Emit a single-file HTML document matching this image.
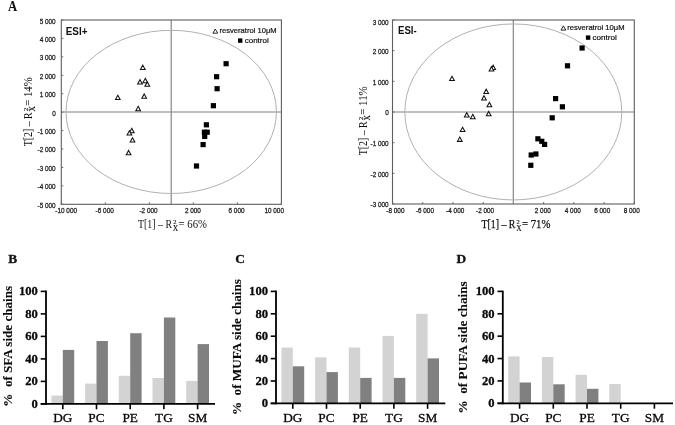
<!DOCTYPE html><html><head><meta charset="utf-8"><style>html,body{margin:0;padding:0;background:#fff;width:675px;height:425px;overflow:hidden}svg{display:block;will-change:transform}</style></head><body>
<svg width="675" height="425" viewBox="0 0 675 425">
<line x1="171.2" y1="20.0" x2="171.2" y2="204.3" stroke="#808080" stroke-width="1.15"/>
<line x1="61.3" y1="112.0" x2="281.4" y2="112.0" stroke="#808080" stroke-width="1.15"/>
<ellipse cx="171.2" cy="111.9" rx="105.2" ry="81.6" fill="none" stroke="#b0b0b0" stroke-width="1"/>
<rect x="61.3" y="20.0" width="220.10" height="184.30" fill="none" stroke="#5e5e5e" stroke-width="1.1"/>
<line x1="61.3" y1="20.00" x2="63.3" y2="20.00" stroke="#5e5e5e" stroke-width="0.9"/>
<text x="55.70" y="24.40" font-family='"Liberation Sans", sans-serif' font-size="7.3" font-weight="normal" text-anchor="end" fill="#1e1e1e" stroke="#1e1e1e" stroke-width="0.28" textLength="16.03" lengthAdjust="spacingAndGlyphs">5 000</text>
<line x1="61.3" y1="38.43" x2="63.3" y2="38.43" stroke="#5e5e5e" stroke-width="0.9"/>
<text x="55.70" y="41.83" font-family='"Liberation Sans", sans-serif' font-size="7.3" font-weight="normal" text-anchor="end" fill="#1e1e1e" stroke="#1e1e1e" stroke-width="0.28" textLength="16.03" lengthAdjust="spacingAndGlyphs">4 000</text>
<line x1="61.3" y1="56.86" x2="63.3" y2="56.86" stroke="#5e5e5e" stroke-width="0.9"/>
<text x="55.70" y="60.26" font-family='"Liberation Sans", sans-serif' font-size="7.3" font-weight="normal" text-anchor="end" fill="#1e1e1e" stroke="#1e1e1e" stroke-width="0.28" textLength="16.03" lengthAdjust="spacingAndGlyphs">3 000</text>
<line x1="61.3" y1="75.29" x2="63.3" y2="75.29" stroke="#5e5e5e" stroke-width="0.9"/>
<text x="55.70" y="78.69" font-family='"Liberation Sans", sans-serif' font-size="7.3" font-weight="normal" text-anchor="end" fill="#1e1e1e" stroke="#1e1e1e" stroke-width="0.28" textLength="16.03" lengthAdjust="spacingAndGlyphs">2 000</text>
<line x1="61.3" y1="93.72" x2="63.3" y2="93.72" stroke="#5e5e5e" stroke-width="0.9"/>
<text x="55.70" y="97.12" font-family='"Liberation Sans", sans-serif' font-size="7.3" font-weight="normal" text-anchor="end" fill="#1e1e1e" stroke="#1e1e1e" stroke-width="0.28" textLength="16.03" lengthAdjust="spacingAndGlyphs">1 000</text>
<line x1="61.3" y1="112.15" x2="63.3" y2="112.15" stroke="#5e5e5e" stroke-width="0.9"/>
<text x="55.70" y="115.55" font-family='"Liberation Sans", sans-serif' font-size="7.3" font-weight="normal" text-anchor="end" fill="#1e1e1e" stroke="#1e1e1e" stroke-width="0.28" textLength="3.56" lengthAdjust="spacingAndGlyphs">0</text>
<line x1="61.3" y1="130.58" x2="63.3" y2="130.58" stroke="#5e5e5e" stroke-width="0.9"/>
<text x="55.70" y="133.98" font-family='"Liberation Sans", sans-serif' font-size="7.3" font-weight="normal" text-anchor="end" fill="#1e1e1e" stroke="#1e1e1e" stroke-width="0.28" textLength="18.16" lengthAdjust="spacingAndGlyphs">-1 000</text>
<line x1="61.3" y1="149.01" x2="63.3" y2="149.01" stroke="#5e5e5e" stroke-width="0.9"/>
<text x="55.70" y="152.41" font-family='"Liberation Sans", sans-serif' font-size="7.3" font-weight="normal" text-anchor="end" fill="#1e1e1e" stroke="#1e1e1e" stroke-width="0.28" textLength="18.16" lengthAdjust="spacingAndGlyphs">-2 000</text>
<line x1="61.3" y1="167.44" x2="63.3" y2="167.44" stroke="#5e5e5e" stroke-width="0.9"/>
<text x="55.70" y="170.84" font-family='"Liberation Sans", sans-serif' font-size="7.3" font-weight="normal" text-anchor="end" fill="#1e1e1e" stroke="#1e1e1e" stroke-width="0.28" textLength="18.16" lengthAdjust="spacingAndGlyphs">-3 000</text>
<line x1="61.3" y1="185.87" x2="63.3" y2="185.87" stroke="#5e5e5e" stroke-width="0.9"/>
<text x="55.70" y="189.27" font-family='"Liberation Sans", sans-serif' font-size="7.3" font-weight="normal" text-anchor="end" fill="#1e1e1e" stroke="#1e1e1e" stroke-width="0.28" textLength="18.16" lengthAdjust="spacingAndGlyphs">-4 000</text>
<line x1="61.3" y1="204.30" x2="63.3" y2="204.30" stroke="#5e5e5e" stroke-width="0.9"/>
<text x="55.70" y="207.70" font-family='"Liberation Sans", sans-serif' font-size="7.3" font-weight="normal" text-anchor="end" fill="#1e1e1e" stroke="#1e1e1e" stroke-width="0.28" textLength="18.16" lengthAdjust="spacingAndGlyphs">-5 000</text>
<line x1="61.30" y1="204.3" x2="61.30" y2="202.3" stroke="#5e5e5e" stroke-width="0.9"/>
<text x="66.20" y="213.20" font-family='"Liberation Sans", sans-serif' font-size="7.3" font-weight="normal" text-anchor="middle" fill="#1e1e1e" stroke="#1e1e1e" stroke-width="0.28" textLength="21.72" lengthAdjust="spacingAndGlyphs">-10 000</text>
<line x1="105.32" y1="204.3" x2="105.32" y2="202.3" stroke="#5e5e5e" stroke-width="0.9"/>
<text x="104.70" y="213.20" font-family='"Liberation Sans", sans-serif' font-size="7.3" font-weight="normal" text-anchor="middle" fill="#1e1e1e" stroke="#1e1e1e" stroke-width="0.28" textLength="18.16" lengthAdjust="spacingAndGlyphs">-6 000</text>
<line x1="149.34" y1="204.3" x2="149.34" y2="202.3" stroke="#5e5e5e" stroke-width="0.9"/>
<text x="148.50" y="213.20" font-family='"Liberation Sans", sans-serif' font-size="7.3" font-weight="normal" text-anchor="middle" fill="#1e1e1e" stroke="#1e1e1e" stroke-width="0.28" textLength="18.16" lengthAdjust="spacingAndGlyphs">-2 000</text>
<line x1="193.36" y1="204.3" x2="193.36" y2="202.3" stroke="#5e5e5e" stroke-width="0.9"/>
<text x="192.90" y="213.20" font-family='"Liberation Sans", sans-serif' font-size="7.3" font-weight="normal" text-anchor="middle" fill="#1e1e1e" stroke="#1e1e1e" stroke-width="0.28" textLength="16.03" lengthAdjust="spacingAndGlyphs">2 000</text>
<line x1="237.38" y1="204.3" x2="237.38" y2="202.3" stroke="#5e5e5e" stroke-width="0.9"/>
<text x="236.50" y="213.20" font-family='"Liberation Sans", sans-serif' font-size="7.3" font-weight="normal" text-anchor="middle" fill="#1e1e1e" stroke="#1e1e1e" stroke-width="0.28" textLength="16.03" lengthAdjust="spacingAndGlyphs">6 000</text>
<line x1="281.40" y1="204.3" x2="281.40" y2="202.3" stroke="#5e5e5e" stroke-width="0.9"/>
<text x="274.20" y="213.20" font-family='"Liberation Sans", sans-serif' font-size="7.3" font-weight="normal" text-anchor="middle" fill="#1e1e1e" stroke="#1e1e1e" stroke-width="0.28" textLength="19.59" lengthAdjust="spacingAndGlyphs">10 000</text>
<path d="M142.80 65.15L145.15 69.45L140.45 69.45Z" fill="#fff" stroke="#111" stroke-width="1.05" stroke-linejoin="miter"/>
<path d="M140.00 79.65L142.35 83.95L137.65 83.95Z" fill="#fff" stroke="#111" stroke-width="1.05" stroke-linejoin="miter"/>
<path d="M145.30 78.35L147.65 82.65L142.95 82.65Z" fill="#fff" stroke="#111" stroke-width="1.05" stroke-linejoin="miter"/>
<path d="M147.30 81.95L149.65 86.25L144.95 86.25Z" fill="#fff" stroke="#111" stroke-width="1.05" stroke-linejoin="miter"/>
<path d="M117.80 95.25L120.15 99.55L115.45 99.55Z" fill="#fff" stroke="#111" stroke-width="1.05" stroke-linejoin="miter"/>
<path d="M144.20 93.95L146.55 98.25L141.85 98.25Z" fill="#fff" stroke="#111" stroke-width="1.05" stroke-linejoin="miter"/>
<path d="M138.20 106.35L140.55 110.65L135.85 110.65Z" fill="#fff" stroke="#111" stroke-width="1.05" stroke-linejoin="miter"/>
<path d="M131.80 128.35L134.15 132.65L129.45 132.65Z" fill="#fff" stroke="#111" stroke-width="1.05" stroke-linejoin="miter"/>
<path d="M129.40 130.75L131.75 135.05L127.05 135.05Z" fill="#fff" stroke="#111" stroke-width="1.05" stroke-linejoin="miter"/>
<path d="M132.50 137.75L134.85 142.05L130.15 142.05Z" fill="#fff" stroke="#111" stroke-width="1.05" stroke-linejoin="miter"/>
<path d="M128.60 150.45L130.95 154.75L126.25 154.75Z" fill="#fff" stroke="#111" stroke-width="1.05" stroke-linejoin="miter"/>
<rect x="223.50" y="61.10" width="5.2" height="5.2" fill="#000"/>
<rect x="214.00" y="74.10" width="5.2" height="5.2" fill="#000"/>
<rect x="214.50" y="86.10" width="5.2" height="5.2" fill="#000"/>
<rect x="210.80" y="103.10" width="5.2" height="5.2" fill="#000"/>
<rect x="203.80" y="122.20" width="5.2" height="5.2" fill="#000"/>
<rect x="204.60" y="129.60" width="5.2" height="5.2" fill="#000"/>
<rect x="201.80" y="129.60" width="5.2" height="5.2" fill="#000"/>
<rect x="202.10" y="133.80" width="5.2" height="5.2" fill="#000"/>
<rect x="200.50" y="142.00" width="5.2" height="5.2" fill="#000"/>
<rect x="193.90" y="163.40" width="5.2" height="5.2" fill="#000"/>
<text x="65.80" y="34.90" font-family='"Liberation Sans", sans-serif' font-size="10.8" font-weight="bold" text-anchor="start" fill="#111" textLength="21.6" lengthAdjust="spacingAndGlyphs">ESI+</text>
<path d="M215.30 29.00L217.70 33.20L212.90 33.20Z" fill="#fff" stroke="#111" stroke-width="0.9" stroke-linejoin="miter"/>
<text x="219.50" y="33.30" font-family='"Liberation Sans", sans-serif' font-size="7.6" font-weight="normal" text-anchor="start" fill="#111" stroke="#111" stroke-width="0.2" textLength="57.2" lengthAdjust="spacingAndGlyphs">resveratrol 10μM</text>
<rect x="238.00" y="38.40" width="4.4" height="4.4" fill="#000"/>
<text x="244.70" y="42.90" font-family='"Liberation Sans", sans-serif' font-size="7.6" font-weight="normal" text-anchor="start" fill="#111" stroke="#111" stroke-width="0.2" textLength="24.0" lengthAdjust="spacingAndGlyphs">control</text>
<text x="138.00" y="227.80" font-family='"Liberation Serif", serif' font-size="11.6" fill="#111" stroke="#111" stroke-width="0.0" textLength="34.0" lengthAdjust="spacingAndGlyphs">T[1] – R</text><text x="173.20" y="223.60" font-family='"Liberation Serif", serif' font-size="6.5" fill="#111" stroke="#111" stroke-width="0.15">2</text><text x="172.80" y="230.60" font-family='"Liberation Serif", serif' font-size="7.4" fill="#111" stroke="#111" stroke-width="0.15">X</text><text x="178.50" y="227.80" font-family='"Liberation Serif", serif' font-size="11.6" fill="#111" stroke="#111" stroke-width="0.0" textLength="28.5" lengthAdjust="spacingAndGlyphs">= 66%</text>
<g transform="translate(32.1,146.3) rotate(-90)"><text x="0.00" y="0.00" font-family='"Liberation Serif", serif' font-size="11.6" fill="#111" stroke="#111" stroke-width="0.05" textLength="34.0" lengthAdjust="spacingAndGlyphs">T[2] – R</text><text x="35.20" y="-4.20" font-family='"Liberation Serif", serif' font-size="6.5" fill="#111" stroke="#111" stroke-width="0.15">2</text><text x="34.80" y="2.80" font-family='"Liberation Serif", serif' font-size="7.4" fill="#111" stroke="#111" stroke-width="0.15">X</text><text x="40.50" y="0.00" font-family='"Liberation Serif", serif' font-size="11.6" fill="#111" stroke="#111" stroke-width="0.05" textLength="28.5" lengthAdjust="spacingAndGlyphs">= 14%</text></g>
<line x1="513.3" y1="20.0" x2="513.3" y2="204.0" stroke="#808080" stroke-width="1.15"/>
<line x1="392.5" y1="112.0" x2="634.3" y2="112.0" stroke="#808080" stroke-width="1.15"/>
<ellipse cx="513.3" cy="111.95" rx="108.5" ry="88.0" fill="none" stroke="#b0b0b0" stroke-width="1"/>
<rect x="392.5" y="20.0" width="241.80" height="184.00" fill="none" stroke="#5e5e5e" stroke-width="1.1"/>
<line x1="392.5" y1="20.00" x2="394.5" y2="20.00" stroke="#5e5e5e" stroke-width="0.9"/>
<text x="388.70" y="25.40" font-family='"Liberation Sans", sans-serif' font-size="7.3" font-weight="normal" text-anchor="end" fill="#1e1e1e" stroke="#1e1e1e" stroke-width="0.28" textLength="16.03" lengthAdjust="spacingAndGlyphs">3 000</text>
<line x1="392.5" y1="50.67" x2="394.5" y2="50.67" stroke="#5e5e5e" stroke-width="0.9"/>
<text x="388.70" y="54.07" font-family='"Liberation Sans", sans-serif' font-size="7.3" font-weight="normal" text-anchor="end" fill="#1e1e1e" stroke="#1e1e1e" stroke-width="0.28" textLength="16.03" lengthAdjust="spacingAndGlyphs">2 000</text>
<line x1="392.5" y1="81.33" x2="394.5" y2="81.33" stroke="#5e5e5e" stroke-width="0.9"/>
<text x="388.70" y="84.73" font-family='"Liberation Sans", sans-serif' font-size="7.3" font-weight="normal" text-anchor="end" fill="#1e1e1e" stroke="#1e1e1e" stroke-width="0.28" textLength="16.03" lengthAdjust="spacingAndGlyphs">1 000</text>
<line x1="392.5" y1="112.00" x2="394.5" y2="112.00" stroke="#5e5e5e" stroke-width="0.9"/>
<text x="388.70" y="115.40" font-family='"Liberation Sans", sans-serif' font-size="7.3" font-weight="normal" text-anchor="end" fill="#1e1e1e" stroke="#1e1e1e" stroke-width="0.28" textLength="3.56" lengthAdjust="spacingAndGlyphs">0</text>
<line x1="392.5" y1="142.67" x2="394.5" y2="142.67" stroke="#5e5e5e" stroke-width="0.9"/>
<text x="388.70" y="146.07" font-family='"Liberation Sans", sans-serif' font-size="7.3" font-weight="normal" text-anchor="end" fill="#1e1e1e" stroke="#1e1e1e" stroke-width="0.28" textLength="18.16" lengthAdjust="spacingAndGlyphs">-1 000</text>
<line x1="392.5" y1="173.33" x2="394.5" y2="173.33" stroke="#5e5e5e" stroke-width="0.9"/>
<text x="388.70" y="176.73" font-family='"Liberation Sans", sans-serif' font-size="7.3" font-weight="normal" text-anchor="end" fill="#1e1e1e" stroke="#1e1e1e" stroke-width="0.28" textLength="18.16" lengthAdjust="spacingAndGlyphs">-2 000</text>
<line x1="392.5" y1="204.00" x2="394.5" y2="204.00" stroke="#5e5e5e" stroke-width="0.9"/>
<text x="388.70" y="207.40" font-family='"Liberation Sans", sans-serif' font-size="7.3" font-weight="normal" text-anchor="end" fill="#1e1e1e" stroke="#1e1e1e" stroke-width="0.28" textLength="18.16" lengthAdjust="spacingAndGlyphs">-3 000</text>
<line x1="392.50" y1="204.0" x2="392.50" y2="202.0" stroke="#5e5e5e" stroke-width="0.9"/>
<text x="395.40" y="213.00" font-family='"Liberation Sans", sans-serif' font-size="7.3" font-weight="normal" text-anchor="middle" fill="#1e1e1e" stroke="#1e1e1e" stroke-width="0.28" textLength="18.16" lengthAdjust="spacingAndGlyphs">-8 000</text>
<line x1="422.73" y1="204.0" x2="422.73" y2="202.0" stroke="#5e5e5e" stroke-width="0.9"/>
<text x="424.90" y="213.00" font-family='"Liberation Sans", sans-serif' font-size="7.3" font-weight="normal" text-anchor="middle" fill="#1e1e1e" stroke="#1e1e1e" stroke-width="0.28" textLength="18.16" lengthAdjust="spacingAndGlyphs">-6 000</text>
<line x1="452.95" y1="204.0" x2="452.95" y2="202.0" stroke="#5e5e5e" stroke-width="0.9"/>
<text x="455.20" y="213.00" font-family='"Liberation Sans", sans-serif' font-size="7.3" font-weight="normal" text-anchor="middle" fill="#1e1e1e" stroke="#1e1e1e" stroke-width="0.28" textLength="18.16" lengthAdjust="spacingAndGlyphs">-4 000</text>
<line x1="483.17" y1="204.0" x2="483.17" y2="202.0" stroke="#5e5e5e" stroke-width="0.9"/>
<text x="485.10" y="213.00" font-family='"Liberation Sans", sans-serif' font-size="7.3" font-weight="normal" text-anchor="middle" fill="#1e1e1e" stroke="#1e1e1e" stroke-width="0.28" textLength="18.16" lengthAdjust="spacingAndGlyphs">-2 000</text>
<line x1="543.62" y1="204.0" x2="543.62" y2="202.0" stroke="#5e5e5e" stroke-width="0.9"/>
<text x="542.80" y="213.00" font-family='"Liberation Sans", sans-serif' font-size="7.3" font-weight="normal" text-anchor="middle" fill="#1e1e1e" stroke="#1e1e1e" stroke-width="0.28" textLength="16.03" lengthAdjust="spacingAndGlyphs">2 000</text>
<line x1="573.85" y1="204.0" x2="573.85" y2="202.0" stroke="#5e5e5e" stroke-width="0.9"/>
<text x="572.80" y="213.00" font-family='"Liberation Sans", sans-serif' font-size="7.3" font-weight="normal" text-anchor="middle" fill="#1e1e1e" stroke="#1e1e1e" stroke-width="0.28" textLength="16.03" lengthAdjust="spacingAndGlyphs">4 000</text>
<line x1="604.07" y1="204.0" x2="604.07" y2="202.0" stroke="#5e5e5e" stroke-width="0.9"/>
<text x="602.20" y="213.00" font-family='"Liberation Sans", sans-serif' font-size="7.3" font-weight="normal" text-anchor="middle" fill="#1e1e1e" stroke="#1e1e1e" stroke-width="0.28" textLength="16.03" lengthAdjust="spacingAndGlyphs">6 000</text>
<line x1="634.30" y1="204.0" x2="634.30" y2="202.0" stroke="#5e5e5e" stroke-width="0.9"/>
<text x="631.70" y="213.00" font-family='"Liberation Sans", sans-serif' font-size="7.3" font-weight="normal" text-anchor="middle" fill="#1e1e1e" stroke="#1e1e1e" stroke-width="0.28" textLength="16.03" lengthAdjust="spacingAndGlyphs">8 000</text>
<path d="M493.20 65.15L495.55 69.45L490.85 69.45Z" fill="#fff" stroke="#111" stroke-width="1.05" stroke-linejoin="miter"/>
<path d="M491.50 66.65L493.85 70.95L489.15 70.95Z" fill="#fff" stroke="#111" stroke-width="1.05" stroke-linejoin="miter"/>
<path d="M452.00 76.25L454.35 80.55L449.65 80.55Z" fill="#fff" stroke="#111" stroke-width="1.05" stroke-linejoin="miter"/>
<path d="M486.20 89.15L488.55 93.45L483.85 93.45Z" fill="#fff" stroke="#111" stroke-width="1.05" stroke-linejoin="miter"/>
<path d="M484.00 95.65L486.35 99.95L481.65 99.95Z" fill="#fff" stroke="#111" stroke-width="1.05" stroke-linejoin="miter"/>
<path d="M489.40 102.35L491.75 106.65L487.05 106.65Z" fill="#fff" stroke="#111" stroke-width="1.05" stroke-linejoin="miter"/>
<path d="M488.70 111.45L491.05 115.75L486.35 115.75Z" fill="#fff" stroke="#111" stroke-width="1.05" stroke-linejoin="miter"/>
<path d="M466.80 112.65L469.15 116.95L464.45 116.95Z" fill="#fff" stroke="#111" stroke-width="1.05" stroke-linejoin="miter"/>
<path d="M472.80 114.35L475.15 118.65L470.45 118.65Z" fill="#fff" stroke="#111" stroke-width="1.05" stroke-linejoin="miter"/>
<path d="M462.60 127.25L464.95 131.55L460.25 131.55Z" fill="#fff" stroke="#111" stroke-width="1.05" stroke-linejoin="miter"/>
<path d="M459.80 137.05L462.15 141.35L457.45 141.35Z" fill="#fff" stroke="#111" stroke-width="1.05" stroke-linejoin="miter"/>
<rect x="579.50" y="45.40" width="5.2" height="5.2" fill="#000"/>
<rect x="564.90" y="63.20" width="5.2" height="5.2" fill="#000"/>
<rect x="553.00" y="96.00" width="5.2" height="5.2" fill="#000"/>
<rect x="559.80" y="104.20" width="5.2" height="5.2" fill="#000"/>
<rect x="549.60" y="115.20" width="5.2" height="5.2" fill="#000"/>
<rect x="535.30" y="136.20" width="5.2" height="5.2" fill="#000"/>
<rect x="539.20" y="138.70" width="5.2" height="5.2" fill="#000"/>
<rect x="542.00" y="141.80" width="5.2" height="5.2" fill="#000"/>
<rect x="533.30" y="151.40" width="5.2" height="5.2" fill="#000"/>
<rect x="528.60" y="152.40" width="5.2" height="5.2" fill="#000"/>
<rect x="528.20" y="162.70" width="5.2" height="5.2" fill="#000"/>
<text x="398.00" y="34.40" font-family='"Liberation Sans", sans-serif' font-size="10.8" font-weight="bold" text-anchor="start" fill="#111" textLength="18.7" lengthAdjust="spacingAndGlyphs">ESI-</text>
<path d="M563.40 25.90L565.80 30.10L561.00 30.10Z" fill="#fff" stroke="#111" stroke-width="0.9" stroke-linejoin="miter"/>
<text x="567.20" y="30.40" font-family='"Liberation Sans", sans-serif' font-size="7.6" font-weight="normal" text-anchor="start" fill="#111" stroke="#111" stroke-width="0.2" textLength="57.4" lengthAdjust="spacingAndGlyphs">resveratrol 10μM</text>
<rect x="585.90" y="35.40" width="4.4" height="4.4" fill="#000"/>
<text x="592.40" y="40.00" font-family='"Liberation Sans", sans-serif' font-size="7.6" font-weight="normal" text-anchor="start" fill="#111" stroke="#111" stroke-width="0.2" textLength="24.4" lengthAdjust="spacingAndGlyphs">control</text>
<text x="481.40" y="227.80" font-family='"Liberation Serif", serif' font-size="11.6" fill="#111" stroke="#111" stroke-width="0.25" textLength="34.0" lengthAdjust="spacingAndGlyphs">T[1] – R</text><text x="516.60" y="223.60" font-family='"Liberation Serif", serif' font-size="6.5" fill="#111" stroke="#111" stroke-width="0.15">2</text><text x="516.20" y="230.60" font-family='"Liberation Serif", serif' font-size="7.4" fill="#111" stroke="#111" stroke-width="0.15">X</text><text x="521.90" y="227.80" font-family='"Liberation Serif", serif' font-size="11.6" fill="#111" stroke="#111" stroke-width="0.25" textLength="28.5" lengthAdjust="spacingAndGlyphs">= 71%</text>
<g transform="translate(366.8,155.3) rotate(-90)"><text x="0.00" y="0.00" font-family='"Liberation Serif", serif' font-size="11.6" fill="#111" stroke="#111" stroke-width="0.05" textLength="34.0" lengthAdjust="spacingAndGlyphs">T[2] – R</text><text x="35.20" y="-4.20" font-family='"Liberation Serif", serif' font-size="6.5" fill="#111" stroke="#111" stroke-width="0.15">2</text><text x="34.80" y="2.80" font-family='"Liberation Serif", serif' font-size="7.4" fill="#111" stroke="#111" stroke-width="0.15">X</text><text x="40.50" y="0.00" font-family='"Liberation Serif", serif' font-size="11.6" fill="#111" stroke="#111" stroke-width="0.05" textLength="28.5" lengthAdjust="spacingAndGlyphs">= 11%</text></g>
<text x="7.90" y="11.00" font-family='"Liberation Serif", serif' font-size="13.7" font-weight="bold" text-anchor="start" fill="#111" textLength="9.2" lengthAdjust="spacingAndGlyphs">A</text>
<rect x="51.40" y="395.50" width="11.4" height="8.40" fill="#d3d3d3"/>
<rect x="62.80" y="349.90" width="11.4" height="54.00" fill="#808080"/>
<rect x="85.10" y="383.60" width="11.4" height="20.30" fill="#d3d3d3"/>
<rect x="96.50" y="341.00" width="11.4" height="62.90" fill="#808080"/>
<rect x="118.80" y="375.80" width="11.4" height="28.10" fill="#d3d3d3"/>
<rect x="130.20" y="333.20" width="11.4" height="70.70" fill="#808080"/>
<rect x="152.50" y="377.90" width="11.4" height="26.00" fill="#d3d3d3"/>
<rect x="163.90" y="317.50" width="11.4" height="86.40" fill="#808080"/>
<rect x="186.20" y="380.90" width="11.4" height="23.00" fill="#d3d3d3"/>
<rect x="197.60" y="344.10" width="11.4" height="59.80" fill="#808080"/>
<line x1="46.0" y1="290.59999999999997" x2="46.0" y2="404.79999999999995" stroke="#000" stroke-width="1.8"/>
<line x1="40.7" y1="403.9" x2="215.0" y2="403.9" stroke="#000" stroke-width="1.8"/>
<line x1="40.7" y1="403.90" x2="46.0" y2="403.90" stroke="#000" stroke-width="1.6"/>
<text x="37.90" y="407.90" font-family='"Liberation Serif", serif' font-size="12.6" font-weight="bold" text-anchor="end" fill="#0a0a0a" stroke="#0a0a0a" stroke-width="0.3">0</text>
<line x1="40.7" y1="381.40" x2="46.0" y2="381.40" stroke="#000" stroke-width="1.6"/>
<text x="37.90" y="385.40" font-family='"Liberation Serif", serif' font-size="12.6" font-weight="bold" text-anchor="end" fill="#0a0a0a" stroke="#0a0a0a" stroke-width="0.3">20</text>
<line x1="40.7" y1="358.90" x2="46.0" y2="358.90" stroke="#000" stroke-width="1.6"/>
<text x="37.90" y="362.90" font-family='"Liberation Serif", serif' font-size="12.6" font-weight="bold" text-anchor="end" fill="#0a0a0a" stroke="#0a0a0a" stroke-width="0.3">40</text>
<line x1="40.7" y1="336.40" x2="46.0" y2="336.40" stroke="#000" stroke-width="1.6"/>
<text x="37.90" y="340.40" font-family='"Liberation Serif", serif' font-size="12.6" font-weight="bold" text-anchor="end" fill="#0a0a0a" stroke="#0a0a0a" stroke-width="0.3">60</text>
<line x1="40.7" y1="313.90" x2="46.0" y2="313.90" stroke="#000" stroke-width="1.6"/>
<text x="37.90" y="317.90" font-family='"Liberation Serif", serif' font-size="12.6" font-weight="bold" text-anchor="end" fill="#0a0a0a" stroke="#0a0a0a" stroke-width="0.3">80</text>
<line x1="40.7" y1="291.40" x2="46.0" y2="291.40" stroke="#000" stroke-width="1.6"/>
<text x="37.90" y="295.40" font-family='"Liberation Serif", serif' font-size="12.6" font-weight="bold" text-anchor="end" fill="#0a0a0a" stroke="#0a0a0a" stroke-width="0.3">100</text>
<line x1="62.80" y1="403.9" x2="62.80" y2="409.29999999999995" stroke="#000" stroke-width="1.6"/>
<text x="62.80" y="422.20" font-family='"Liberation Serif", serif' font-size="13.3" font-weight="normal" text-anchor="middle" fill="#0a0a0a" stroke="#0a0a0a" stroke-width="0.3">DG</text>
<line x1="96.50" y1="403.9" x2="96.50" y2="409.29999999999995" stroke="#000" stroke-width="1.6"/>
<text x="96.50" y="422.20" font-family='"Liberation Serif", serif' font-size="13.3" font-weight="normal" text-anchor="middle" fill="#0a0a0a" stroke="#0a0a0a" stroke-width="0.3">PC</text>
<line x1="130.20" y1="403.9" x2="130.20" y2="409.29999999999995" stroke="#000" stroke-width="1.6"/>
<text x="130.20" y="422.20" font-family='"Liberation Serif", serif' font-size="13.3" font-weight="normal" text-anchor="middle" fill="#0a0a0a" stroke="#0a0a0a" stroke-width="0.3">PE</text>
<line x1="163.90" y1="403.9" x2="163.90" y2="409.29999999999995" stroke="#000" stroke-width="1.6"/>
<text x="163.90" y="422.20" font-family='"Liberation Serif", serif' font-size="13.3" font-weight="normal" text-anchor="middle" fill="#0a0a0a" stroke="#0a0a0a" stroke-width="0.3">TG</text>
<line x1="197.60" y1="403.9" x2="197.60" y2="409.29999999999995" stroke="#000" stroke-width="1.6"/>
<text x="197.60" y="422.20" font-family='"Liberation Serif", serif' font-size="13.3" font-weight="normal" text-anchor="middle" fill="#0a0a0a" stroke="#0a0a0a" stroke-width="0.3">SM</text>
<text x="8.30" y="262.60" font-family='"Liberation Serif", serif' font-size="13.4" font-weight="bold" text-anchor="start" fill="#111" stroke="#111" stroke-width="0.3">B</text>
<text transform="translate(11.5,346.35) rotate(-90)" x="0" y="0" font-family='"Liberation Serif", serif' font-size="13" font-weight="bold" text-anchor="middle" fill="#0a0a0a" stroke="#0a0a0a" stroke-width="0.1" textLength="120.8" lengthAdjust="spacingAndGlyphs">%  of SFA side chains</text>
<rect x="281.40" y="347.50" width="11.4" height="55.90" fill="#d3d3d3"/>
<rect x="292.80" y="366.30" width="11.4" height="37.10" fill="#808080"/>
<rect x="315.10" y="357.40" width="11.4" height="46.00" fill="#d3d3d3"/>
<rect x="326.50" y="372.10" width="11.4" height="31.30" fill="#808080"/>
<rect x="348.80" y="347.50" width="11.4" height="55.90" fill="#d3d3d3"/>
<rect x="360.20" y="377.90" width="11.4" height="25.50" fill="#808080"/>
<rect x="382.50" y="335.90" width="11.4" height="67.50" fill="#d3d3d3"/>
<rect x="393.90" y="377.90" width="11.4" height="25.50" fill="#808080"/>
<rect x="416.20" y="313.80" width="11.4" height="89.60" fill="#d3d3d3"/>
<rect x="427.60" y="358.40" width="11.4" height="45.00" fill="#808080"/>
<line x1="276.0" y1="290.59999999999997" x2="276.0" y2="404.29999999999995" stroke="#000" stroke-width="1.8"/>
<line x1="270.7" y1="403.4" x2="445.3" y2="403.4" stroke="#000" stroke-width="1.8"/>
<line x1="270.7" y1="403.40" x2="276.0" y2="403.40" stroke="#000" stroke-width="1.6"/>
<text x="268.00" y="407.40" font-family='"Liberation Serif", serif' font-size="12.6" font-weight="bold" text-anchor="end" fill="#0a0a0a" stroke="#0a0a0a" stroke-width="0.3">0</text>
<line x1="270.7" y1="381.00" x2="276.0" y2="381.00" stroke="#000" stroke-width="1.6"/>
<text x="268.00" y="385.00" font-family='"Liberation Serif", serif' font-size="12.6" font-weight="bold" text-anchor="end" fill="#0a0a0a" stroke="#0a0a0a" stroke-width="0.3">20</text>
<line x1="270.7" y1="358.60" x2="276.0" y2="358.60" stroke="#000" stroke-width="1.6"/>
<text x="268.00" y="362.60" font-family='"Liberation Serif", serif' font-size="12.6" font-weight="bold" text-anchor="end" fill="#0a0a0a" stroke="#0a0a0a" stroke-width="0.3">40</text>
<line x1="270.7" y1="336.20" x2="276.0" y2="336.20" stroke="#000" stroke-width="1.6"/>
<text x="268.00" y="340.20" font-family='"Liberation Serif", serif' font-size="12.6" font-weight="bold" text-anchor="end" fill="#0a0a0a" stroke="#0a0a0a" stroke-width="0.3">60</text>
<line x1="270.7" y1="313.80" x2="276.0" y2="313.80" stroke="#000" stroke-width="1.6"/>
<text x="268.00" y="317.80" font-family='"Liberation Serif", serif' font-size="12.6" font-weight="bold" text-anchor="end" fill="#0a0a0a" stroke="#0a0a0a" stroke-width="0.3">80</text>
<line x1="270.7" y1="291.40" x2="276.0" y2="291.40" stroke="#000" stroke-width="1.6"/>
<text x="268.00" y="295.40" font-family='"Liberation Serif", serif' font-size="12.6" font-weight="bold" text-anchor="end" fill="#0a0a0a" stroke="#0a0a0a" stroke-width="0.3">100</text>
<line x1="292.80" y1="403.4" x2="292.80" y2="408.79999999999995" stroke="#000" stroke-width="1.6"/>
<text x="292.80" y="421.70" font-family='"Liberation Serif", serif' font-size="13.3" font-weight="normal" text-anchor="middle" fill="#0a0a0a" stroke="#0a0a0a" stroke-width="0.3">DG</text>
<line x1="326.50" y1="403.4" x2="326.50" y2="408.79999999999995" stroke="#000" stroke-width="1.6"/>
<text x="326.50" y="421.70" font-family='"Liberation Serif", serif' font-size="13.3" font-weight="normal" text-anchor="middle" fill="#0a0a0a" stroke="#0a0a0a" stroke-width="0.3">PC</text>
<line x1="360.20" y1="403.4" x2="360.20" y2="408.79999999999995" stroke="#000" stroke-width="1.6"/>
<text x="360.20" y="421.70" font-family='"Liberation Serif", serif' font-size="13.3" font-weight="normal" text-anchor="middle" fill="#0a0a0a" stroke="#0a0a0a" stroke-width="0.3">PE</text>
<line x1="393.90" y1="403.4" x2="393.90" y2="408.79999999999995" stroke="#000" stroke-width="1.6"/>
<text x="393.90" y="421.70" font-family='"Liberation Serif", serif' font-size="13.3" font-weight="normal" text-anchor="middle" fill="#0a0a0a" stroke="#0a0a0a" stroke-width="0.3">TG</text>
<line x1="427.60" y1="403.4" x2="427.60" y2="408.79999999999995" stroke="#000" stroke-width="1.6"/>
<text x="427.60" y="421.70" font-family='"Liberation Serif", serif' font-size="13.3" font-weight="normal" text-anchor="middle" fill="#0a0a0a" stroke="#0a0a0a" stroke-width="0.3">SM</text>
<text x="235.20" y="262.60" font-family='"Liberation Serif", serif' font-size="13.4" font-weight="bold" text-anchor="start" fill="#111" stroke="#111" stroke-width="0.3">C</text>
<text transform="translate(240.9,347.1) rotate(-90)" x="0" y="0" font-family='"Liberation Serif", serif' font-size="13" font-weight="bold" text-anchor="middle" fill="#0a0a0a" stroke="#0a0a0a" stroke-width="0.1" textLength="136.0" lengthAdjust="spacingAndGlyphs">%  of MUFA side chains</text>
<rect x="508.20" y="356.40" width="11.4" height="46.90" fill="#d3d3d3"/>
<rect x="519.60" y="382.50" width="11.4" height="20.80" fill="#808080"/>
<rect x="541.90" y="357.00" width="11.4" height="46.30" fill="#d3d3d3"/>
<rect x="553.30" y="384.30" width="11.4" height="19.00" fill="#808080"/>
<rect x="575.60" y="374.80" width="11.4" height="28.50" fill="#d3d3d3"/>
<rect x="587.00" y="388.80" width="11.4" height="14.50" fill="#808080"/>
<rect x="609.30" y="384.00" width="11.4" height="19.30" fill="#d3d3d3"/>
<line x1="502.8" y1="290.59999999999997" x2="502.8" y2="404.2" stroke="#000" stroke-width="1.8"/>
<line x1="497.5" y1="403.3" x2="673.0" y2="403.3" stroke="#000" stroke-width="1.8"/>
<line x1="497.5" y1="403.30" x2="502.8" y2="403.30" stroke="#000" stroke-width="1.6"/>
<text x="494.60" y="407.30" font-family='"Liberation Serif", serif' font-size="12.6" font-weight="bold" text-anchor="end" fill="#0a0a0a" stroke="#0a0a0a" stroke-width="0.3">0</text>
<line x1="497.5" y1="380.92" x2="502.8" y2="380.92" stroke="#000" stroke-width="1.6"/>
<text x="494.60" y="384.92" font-family='"Liberation Serif", serif' font-size="12.6" font-weight="bold" text-anchor="end" fill="#0a0a0a" stroke="#0a0a0a" stroke-width="0.3">20</text>
<line x1="497.5" y1="358.54" x2="502.8" y2="358.54" stroke="#000" stroke-width="1.6"/>
<text x="494.60" y="362.54" font-family='"Liberation Serif", serif' font-size="12.6" font-weight="bold" text-anchor="end" fill="#0a0a0a" stroke="#0a0a0a" stroke-width="0.3">40</text>
<line x1="497.5" y1="336.16" x2="502.8" y2="336.16" stroke="#000" stroke-width="1.6"/>
<text x="494.60" y="340.16" font-family='"Liberation Serif", serif' font-size="12.6" font-weight="bold" text-anchor="end" fill="#0a0a0a" stroke="#0a0a0a" stroke-width="0.3">60</text>
<line x1="497.5" y1="313.78" x2="502.8" y2="313.78" stroke="#000" stroke-width="1.6"/>
<text x="494.60" y="317.78" font-family='"Liberation Serif", serif' font-size="12.6" font-weight="bold" text-anchor="end" fill="#0a0a0a" stroke="#0a0a0a" stroke-width="0.3">80</text>
<line x1="497.5" y1="291.40" x2="502.8" y2="291.40" stroke="#000" stroke-width="1.6"/>
<text x="494.60" y="295.40" font-family='"Liberation Serif", serif' font-size="12.6" font-weight="bold" text-anchor="end" fill="#0a0a0a" stroke="#0a0a0a" stroke-width="0.3">100</text>
<line x1="519.60" y1="403.3" x2="519.60" y2="408.7" stroke="#000" stroke-width="1.6"/>
<text x="519.60" y="421.60" font-family='"Liberation Serif", serif' font-size="13.3" font-weight="normal" text-anchor="middle" fill="#0a0a0a" stroke="#0a0a0a" stroke-width="0.3">DG</text>
<line x1="553.30" y1="403.3" x2="553.30" y2="408.7" stroke="#000" stroke-width="1.6"/>
<text x="553.30" y="421.60" font-family='"Liberation Serif", serif' font-size="13.3" font-weight="normal" text-anchor="middle" fill="#0a0a0a" stroke="#0a0a0a" stroke-width="0.3">PC</text>
<line x1="587.00" y1="403.3" x2="587.00" y2="408.7" stroke="#000" stroke-width="1.6"/>
<text x="587.00" y="421.60" font-family='"Liberation Serif", serif' font-size="13.3" font-weight="normal" text-anchor="middle" fill="#0a0a0a" stroke="#0a0a0a" stroke-width="0.3">PE</text>
<line x1="620.70" y1="403.3" x2="620.70" y2="408.7" stroke="#000" stroke-width="1.6"/>
<text x="620.70" y="421.60" font-family='"Liberation Serif", serif' font-size="13.3" font-weight="normal" text-anchor="middle" fill="#0a0a0a" stroke="#0a0a0a" stroke-width="0.3">TG</text>
<line x1="654.40" y1="403.3" x2="654.40" y2="408.7" stroke="#000" stroke-width="1.6"/>
<text x="654.40" y="421.60" font-family='"Liberation Serif", serif' font-size="13.3" font-weight="normal" text-anchor="middle" fill="#0a0a0a" stroke="#0a0a0a" stroke-width="0.3">SM</text>
<text x="456.40" y="262.60" font-family='"Liberation Serif", serif' font-size="13.4" font-weight="bold" text-anchor="start" fill="#111" stroke="#111" stroke-width="0.3">D</text>
<text transform="translate(466.6,347.45) rotate(-90)" x="0" y="0" font-family='"Liberation Serif", serif' font-size="13" font-weight="bold" text-anchor="middle" fill="#0a0a0a" stroke="#0a0a0a" stroke-width="0.1" textLength="132.2" lengthAdjust="spacingAndGlyphs">%  of PUFA side chains</text>
</svg></body></html>
